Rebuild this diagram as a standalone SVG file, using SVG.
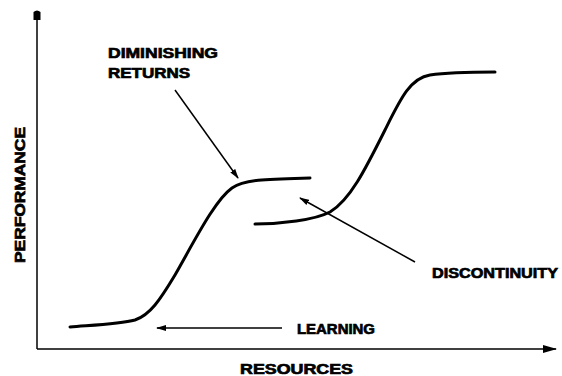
<svg xmlns="http://www.w3.org/2000/svg" width="562" height="376" viewBox="0 0 562 376">
<defs>
<style>
.lbl{font-family:"Liberation Sans",Arial,sans-serif;font-weight:bold;font-size:14.5px;fill:#000;stroke:#000;stroke-width:0.7}
.axis{stroke:#000;stroke-width:1.5;fill:none}
.curve{stroke:#000;stroke-width:3;fill:none;stroke-linecap:round;stroke-linejoin:round}
.ptr{stroke:#000;stroke-width:1.5;fill:none}
</style>
<marker id="ah" markerWidth="10" markerHeight="8" refX="9" refY="4" orient="auto" markerUnits="userSpaceOnUse">
<path d="M0,1 L10,4 L0,7 Z" fill="#000"/>
</marker>
<marker id="ax" markerWidth="14" markerHeight="10" refX="13" refY="5" orient="auto" markerUnits="userSpaceOnUse">
<path d="M0,1 L14,5 L0,9 Z" fill="#000"/>
</marker>
</defs>
<rect width="562" height="376" fill="#fff"/>
<g id="axes">
<line class="axis" x1="37" y1="349" x2="37" y2="16"/>
<path d="M33.5,20 L33.5,12 Q37,9 40.5,12 L40.5,20 Z" fill="#000"/>
<line class="axis" x1="37" y1="349" x2="556" y2="349" marker-end="url(#ax)"/>
</g>
<g id="labels-axes">
<text class="lbl" x="240" y="374" textLength="113" lengthAdjust="spacingAndGlyphs">RESOURCES</text>
<text class="lbl" transform="translate(25,263) rotate(-90)" textLength="136" lengthAdjust="spacingAndGlyphs">PERFORMANCE</text>
</g>
<g id="curve1">
<path class="curve" d="M70,327 C95,325 120,324 135,320 C150,315 160,300 175,275 C195,240 215,200 232,188 C245,179 270,179 310,178"/>
</g>
<g id="curve2">
<path class="curve" d="M255,224 C280,224 315,220 330,212 C350,200 365,170 385,130 C400,100 410,78 430,75 C450,72 470,72 495,72"/>
</g>
<g id="connectors">
<line class="ptr" x1="175" y1="90" x2="238" y2="178" marker-end="url(#ah)"/>
<line class="ptr" x1="415" y1="262" x2="300" y2="198" marker-end="url(#ah)"/>
<line class="ptr" x1="282" y1="328" x2="157" y2="328" marker-end="url(#ah)"/>
</g>
<g id="label-diminishing">
<text class="lbl" x="108" y="58" textLength="110" lengthAdjust="spacingAndGlyphs">DIMINISHING</text>
<text class="lbl" x="108" y="78" textLength="82" lengthAdjust="spacingAndGlyphs">RETURNS</text>
</g>
<g id="label-discontinuity">
<text class="lbl" x="432" y="278" textLength="126" lengthAdjust="spacingAndGlyphs">DISCONTINUITY</text>
</g>
<g id="label-learning">
<text class="lbl" x="297" y="334" textLength="78" lengthAdjust="spacingAndGlyphs">LEARNING</text>
</g>
</svg>
